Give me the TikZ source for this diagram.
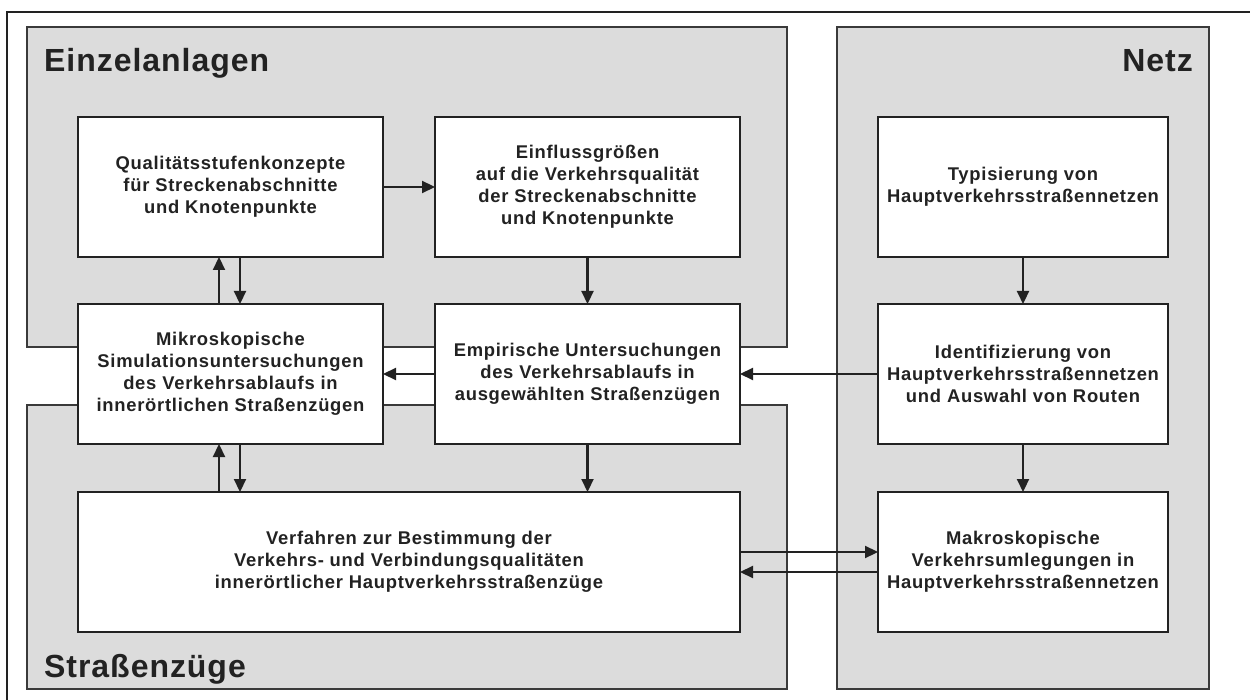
\documentclass[tikz,border=0pt]{standalone}
\usepackage{fontspec}
\setmainfont{Liberation Sans}
\newfontfamily\boxfont[LetterSpace=4]{Liberation Sans}
\newfontfamily\titlefont[LetterSpace=3]{Liberation Sans}
\usetikzlibrary{arrows.meta}
\definecolor{regiongrey}{HTML}{DCDCDC}
\definecolor{ink}{HTML}{222222}
\definecolor{regionline}{HTML}{3A3A3A}
\tikzset{
  region/.style={fill=regiongrey, draw=regionline, line width=1.8pt},
  box/.style={draw=ink, fill=white, line width=2.8pt, align=center, inner sep=0pt, outer sep=0pt,
    text=ink, font=\boxfont\fontsize{18.4}{22}\selectfont\bfseries},
  title/.style={text=ink, font=\titlefont\fontsize{32}{36}\selectfont\bfseries, inner sep=0pt},
  arr/.style={draw=ink, line width=2.2pt, -{Triangle[length=13pt,width=12pt]}}
}
\begin{document}
\begin{tikzpicture}[x=1pt,y=-1pt]
\useasboundingbox[fill=white] (0,0) rectangle (1250,700);
% outer frame (top and left edges)
\draw[draw=ink, line width=1.2pt] (7,700) -- (7,12) -- (1250,12);
% regions
\draw[region] (27,27) rectangle (787,347);
\draw[region] (27,405) rectangle (787,689);
\draw[region] (837,27) rectangle (1209,689);
\node[title, anchor=base west] (tEinzel) at (44,72) {Einzelanlagen};
\node[title, anchor=base east] (tNetz) at (1193,72) {Netz};
\node[title, anchor=base west] (tStr) at (44,677) {Straßenzüge};
% boxes
\node[box, minimum width=305pt, minimum height=140pt] (Q) at (230.5,187)
  {Qualitätsstufenkonzepte\\für Streckenabschnitte\\und Knotenpunkte};
\node[box, minimum width=305pt, minimum height=140pt] (E) at (587.5,187)
  {Einflussgrößen\\auf die Verkehrsqualität\\der Streckenabschnitte\\und Knotenpunkte};
\node[box, minimum width=305pt, minimum height=140pt] (M) at (230.5,374)
  {Mikroskopische\\Simulationsuntersuchungen\\des Verkehrsablaufs in\\innerörtlichen Straßenzügen};
\node[box, minimum width=305pt, minimum height=140pt] (Emp) at (587.5,374)
  {Empirische Untersuchungen\\des Verkehrsablaufs in\\ausgewählten Straßenzügen};
\node[box, minimum width=662pt, minimum height=140pt] (V) at (409,562)
  {Verfahren zur Bestimmung der\\Verkehrs- und Verbindungsqualitäten\\innerörtlicher Hauptverkehrsstraßenzüge};
\node[box, minimum width=290pt, minimum height=140pt] (T) at (1023,187)
  {Typisierung von\\Hauptverkehrsstraßennetzen};
\node[box, minimum width=290pt, minimum height=140pt] (I) at (1023,374)
  {Identifizierung von\\Hauptverkehrsstraßennetzen\\und Auswahl von Routen};
\node[box, minimum width=290pt, minimum height=140pt] (Mk) at (1023,562)
  {Makroskopische\\Verkehrsumlegungen in\\Hauptverkehrsstraßennetzen};
% connectors
\draw[arr] (Q.east) -- (E.west);
\draw[arr] (E.south) -- (Emp.north);
\draw[arr] ([xshift=-11.5pt]M.north) -- ([xshift=-11.5pt]Q.south);
\draw[arr] ([xshift=9.5pt]Q.south) -- ([xshift=9.5pt]M.north);
\draw[arr] ([xshift=-11.5pt]V.north -| M.south) -- ([xshift=-11.5pt]M.south);
\draw[arr] ([xshift=9.5pt]M.south) -- ([xshift=9.5pt]V.north -| M.south);
\draw[arr] (Emp.west) -- (M.east);
\draw[arr] (I.west) -- (Emp.east);
\draw[arr] (Emp.south) -- (Emp.south |- V.north);
\draw[arr] (T.south) -- (I.north);
\draw[arr] (I.south) -- (Mk.north);
\draw[arr] ([yshift=10pt]V.east) -- ([yshift=10pt]Mk.west);
\draw[arr] ([yshift=-10pt]Mk.west) -- ([yshift=-10pt]V.east);
\end{tikzpicture}
\end{document}
